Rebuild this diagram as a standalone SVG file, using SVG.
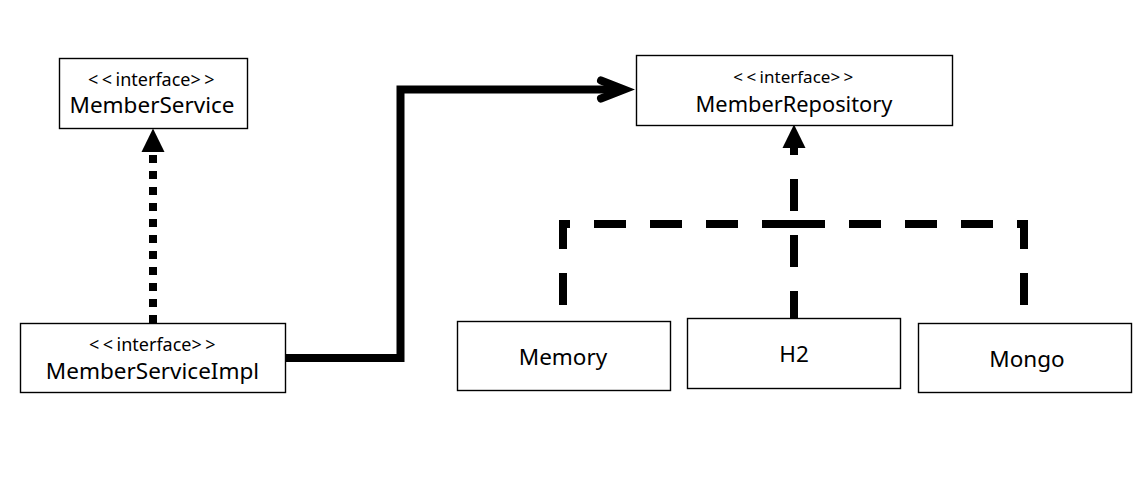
<svg xmlns="http://www.w3.org/2000/svg" width="1142" height="498" viewBox="0 0 1142 498">
  <style>
    .box { fill: #ffffff; stroke: #000000; stroke-width: 1.4; }
    .stereo { font-family: "Noto Sans", "Open Sans", sans-serif; font-size: 18px; fill: #000000; text-anchor: middle; }
    .br { letter-spacing: 3.5px; }
    .name { font-family: "Noto Sans", "Open Sans", sans-serif; font-size: 22.5px; fill: #000000; text-anchor: middle; }
    .line { fill: none; stroke: #000000; stroke-width: 8; stroke-linecap: butt; stroke-linejoin: miter; }
    .dotted { stroke-dasharray: 8 8; }
    .dashed { stroke-dasharray: 32 24; }
    .chevron { fill: none; stroke: #000000; stroke-width: 8; stroke-linecap: round; stroke-linejoin: miter; stroke-miterlimit: 10; }
  </style>
  <defs>
    <marker id="tri" markerUnits="userSpaceOnUse" markerWidth="24" markerHeight="24" refX="0" refY="11.5" orient="auto" overflow="visible">
      <path d="M0,0 L23.5,11.5 L0,23 Z" fill="#000000"/>
    </marker>
  </defs>

  <g id="connectors">
    <path class="line dotted" d="M153,323 V152" marker-end="url(#tri)"/>
    <path class="line" d="M285.5,358 H400.5 V89.5 H621"/>
    <path class="chevron" d="M601,80.5 L624,89.5 L601,98.5"/>
    <path class="line dashed" d="M563,305 V224 H794"/>
    <path class="line dashed" d="M1024,305 V224 H794"/>
    <path class="line dashed" d="M794,323 V148" marker-end="url(#tri)"/>
  </g>

  <g id="member-service">
    <rect class="box" x="59.5" y="58.5" width="188" height="70"/>
    <text class="stereo" x="153" y="85.5"><tspan class="br">&lt;&lt;</tspan>interface<tspan class="br">&gt;&gt;</tspan></text>
    <text class="name" x="152" y="113">MemberService</text>
  </g>

  <g id="member-service-impl">
    <rect class="box" x="20.5" y="323.5" width="265" height="69"/>
    <text class="stereo" x="154" y="351"><tspan class="br">&lt;&lt;</tspan>interface<tspan class="br">&gt;&gt;</tspan></text>
    <text class="name" x="152.5" y="379">MemberServiceImpl</text>
  </g>

  <g id="member-repository">
    <rect class="box" x="636.5" y="55.5" width="316" height="70"/>
    <text class="stereo" x="795" y="83.3" style="font-size:17px"><tspan class="br">&lt;&lt;</tspan>interface<tspan class="br">&gt;&gt;</tspan></text>
    <text class="name" x="794" y="111.5" style="font-size:21.8px">MemberRepository</text>
  </g>

  <g id="memory">
    <rect class="box" x="457.5" y="321.5" width="213" height="69"/>
    <text class="name" x="563" y="365">Memory</text>
  </g>

  <g id="h2">
    <rect class="box" x="687.5" y="318.5" width="213" height="70"/>
    <text class="name" x="794" y="362">H2</text>
  </g>

  <g id="mongo">
    <rect class="box" x="918.5" y="323.5" width="213" height="69"/>
    <text class="name" x="1027" y="367">Mongo</text>
  </g>
</svg>
